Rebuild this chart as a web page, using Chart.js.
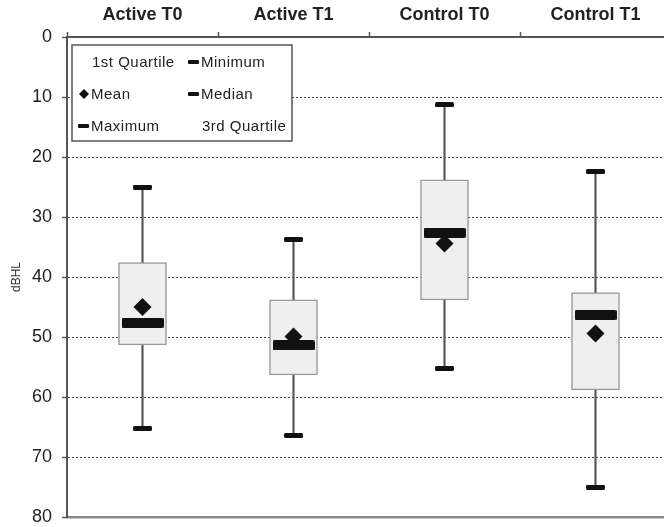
<!DOCTYPE html>
<html lang="en">
<head>
  <meta charset="UTF-8" />
  <title>dBHL box plot</title>
  <script src="https://cdn.jsdelivr.net/npm/chart.js"></script>
  <style>
    html, body { margin: 0; padding: 0; background: #fff; overflow: hidden; }
    #wrap { width: 664px; height: 527px; overflow: hidden; }
  </style>
</head>
<body>

  <div id="wrap">
    <canvas id="boxChart" width="680" height="527"></canvas>
  </div>

<script>

const categories = ['Active T0', 'Active T1', 'Control T0', 'Control T1'];
const minimum  = [25.0, 33.7, 11.3, 22.4];
const quartile1 = [37.6, 43.8, 23.8, 42.6];
const median   = [47.6, 51.4, 32.6, 46.3];
const mean     = [45.0, 49.9, 34.4, 49.4];
const quartile3 = [51.3, 56.3, 43.8, 58.8];
const maximum  = [65.2, 66.4, 55.2, 75.0];
const yTicks = [0, 10, 20, 30, 40, 50, 60, 70, 80];

// legend order as Excel lays it out (row by row, two columns)
const legendNames = ['1st Quartile', 'Minimum', 'Mean', 'Median', 'Maximum', '3rd Quartile'];
const legendMarks = ['none', 'dash', 'diamond', 'dash', 'dash', 'none'];

const FONT = '"Liberation Sans", Arial, sans-serif';

function barImage(w, h) {
  const c = document.createElement('canvas');
  c.width = w; c.height = h;
  const g = c.getContext('2d');
  g.fillStyle = '#111';
  g.beginPath();
  g.roundRect(0, 0, w, h, 1.5);
  g.fill();
  return c;
}

const capMark = barImage(19, 5);
const medianMark = barImage(42, 10);

const legendBox = {
  id: 'legendBox',
  afterDraw(chart) {
    const ctx = chart.ctx;
    ctx.save();
    ctx.fillStyle = '#fff';
    ctx.fillRect(72, 45, 220, 96);
    ctx.strokeStyle = '#555';
    ctx.lineWidth = 1.5;
    ctx.strokeRect(72, 45, 220, 96);
    ctx.font = '15px ' + FONT;
    ctx.letterSpacing = '0.5px';
    ctx.textBaseline = 'middle';
    legendNames.forEach((name, i) => {
      const col = i % 2, row = Math.floor(i / 2);
      const mx = col === 0 ? 78 : 188;
      const y = 62 + row * 32;
      ctx.fillStyle = '#111';
      if (legendMarks[i] === 'dash') {
        ctx.beginPath();
        ctx.roundRect(mx, y - 2, 11, 4, 1);
        ctx.fill();
      } else if (legendMarks[i] === 'diamond') {
        ctx.beginPath();
        ctx.moveTo(mx + 6, y - 5);
        ctx.lineTo(mx + 11, y);
        ctx.lineTo(mx + 6, y + 5);
        ctx.lineTo(mx + 1, y);
        ctx.closePath();
        ctx.fill();
      }
      ctx.fillStyle = '#222';
      const tx = legendMarks[i] === 'none' ? mx + 14 : mx + 13;
      ctx.fillText(name, tx, y + 1);
    });
    ctx.restore();
  }
};

const ctx = document.getElementById('boxChart').getContext('2d');

const chart = new Chart(ctx, {
  type: 'bar',
  data: {
    labels: categories,
    datasets: [
      {
        label: 'Whisker',
        data: minimum.map((v, i) => [v, maximum[i]]),
        backgroundColor: '#555',
        barThickness: 1.5,
        grouped: false,
        order: 4
      },
      {
        label: 'Box',
        data: quartile1.map((v, i) => [v, quartile3[i]]),
        backgroundColor: '#efefef',
        borderColor: '#9a9a9a',
        borderWidth: 1.5,
        borderSkipped: false,
        barThickness: 48,
        grouped: false,
        order: 3
      },
      {
        type: 'line',
        label: 'Minimum',
        data: minimum,
        showLine: false,
        pointStyle: capMark,
        order: 1
      },
      {
        type: 'line',
        label: 'Maximum',
        data: maximum,
        showLine: false,
        pointStyle: capMark,
        order: 1
      },
      {
        type: 'line',
        label: 'Median',
        data: median,
        showLine: false,
        pointStyle: medianMark,
        order: 1
      },
      {
        type: 'line',
        label: 'Mean',
        data: mean,
        showLine: false,
        pointStyle: 'rectRot',
        pointRadius: 9,
        pointBackgroundColor: '#111',
        pointBorderWidth: 0,
        order: 0
      }
    ]
  },
  options: {
    responsive: false,
    animation: false,
    events: [],
    layout: { padding: { left: 0, right: 9, top: 0, bottom: 0 } },
    scales: {
      x: {
        type: 'category',
        position: 'top',
        offset: true,
        afterFit: s => { s.height = 37; },
        grid: {
          drawOnChartArea: false,
          offset: true,
          tickLength: 5,
          tickColor: '#555',
          tickWidth: 1.5
        },
        border: { color: '#555', width: 2 },
        ticks: {
          color: '#222',
          padding: 6,
          font: { family: FONT, size: 18, weight: 'bold' }
        }
      },
      x2: {
        type: 'category',
        position: 'bottom',
        labels: categories,
        afterFit: s => { s.height = 10; },
        grid: { display: false },
        border: { color: '#8a8a8a', width: 2.5 },
        ticks: { display: false }
      },
      y: {
        reverse: true,
        min: 0,
        max: 80,
        afterFit: s => { s.width = 67; s.paddingTop = 0; s.paddingBottom = 0; },
        afterBuildTicks: s => { s.ticks = yTicks.map(v => ({ value: v })); },
        grid: {
          color: '#444',
          lineWidth: 1,
          tickLength: 5,
          tickColor: '#555',
          tickWidth: 1.5
        },
        border: { color: '#555', width: 2, dash: [2, 2] },
        ticks: {
          color: '#222',
          padding: 10,
          font: { family: FONT, size: 18 }
        },
        title: {
          display: true,
          text: 'dBHL',
          color: '#333',
          padding: { top: 9, bottom: 0 },
          font: { family: FONT, size: 12 }
        }
      }
    },
    plugins: {
      legend: { display: false },
      tooltip: { enabled: false }
    }
  },
  plugins: [legendBox]
});

</script>

</body>
</html>
